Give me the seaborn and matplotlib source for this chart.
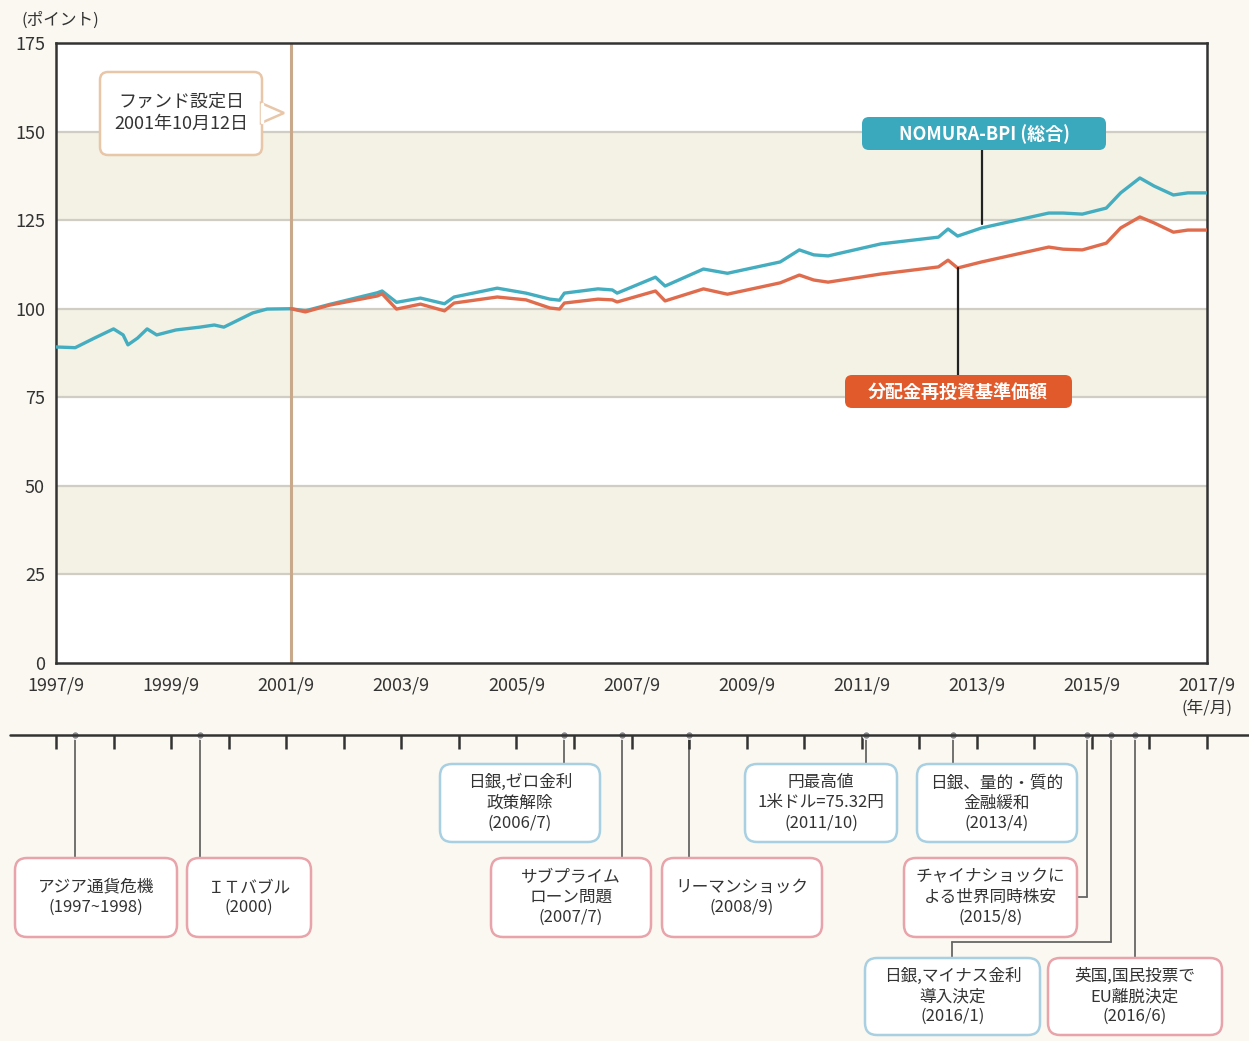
import numpy as np
import pandas as pd
import matplotlib
matplotlib.use("Agg")
import matplotlib.pyplot as plt
from matplotlib.patches import FancyBboxPatch, Polygon
import seaborn as sns

sns.set_theme(style="white")
plt.rcParams['font.family'] = ['Noto Sans CJK JP', 'DejaVu Sans']

# ---- data ----
bpi_dates = ["1997/9", "1998/1", "1998/5", "1998/9", "1998/11", "1998/12", "1999/2", "1999/4",
             "1999/6", "1999/10", "2000/3", "2000/6", "2000/8", "2000/11", "2001/2", "2001/5",
             "2001/10", "2002/1", "2002/6", "2003/4", "2003/5", "2003/8", "2004/1", "2004/6",
             "2004/8", "2005/5", "2005/11", "2006/4", "2006/6", "2006/7", "2007/2", "2007/5",
             "2007/6", "2008/2", "2008/4", "2008/12", "2009/5", "2010/4", "2010/8", "2010/11",
             "2011/2", "2012/1", "2013/1", "2013/3", "2013/5", "2013/10", "2014/12", "2015/3",
             "2015/7", "2015/12", "2016/3", "2016/7", "2016/10", "2017/2", "2017/5", "2017/9"]
bpi_values = [89.2, 89.0, 91.7, 94.3, 92.6, 89.8, 91.7, 94.3, 92.6, 94.0, 94.8, 95.4, 94.8, 96.8,
              98.8, 99.9, 100.0, 99.4, 101.2, 104.5, 105.0, 101.8, 103.0, 101.4, 103.3, 105.8,
              104.4, 102.7, 102.4, 104.4, 105.6, 105.3, 104.4, 108.9, 106.4, 111.2, 110.0, 113.2,
              116.6, 115.2, 114.9, 118.3, 120.2, 122.5, 120.5, 122.8, 127.0, 127.0, 126.7, 128.4,
              132.7, 136.9, 134.6, 132.1, 132.7, 132.7]

fund_dates = bpi_dates[16:]
fund_values = [100.0, 99.1, 101.0, 103.6, 104.2, 99.9, 101.3, 99.4, 101.6, 103.3, 102.5, 100.2,
               99.9, 101.6, 102.7, 102.5, 101.9, 105.0, 102.2, 105.6, 104.1, 107.3, 109.5, 108.1,
               107.5, 109.8, 111.8, 113.7, 111.5, 113.2, 117.4, 116.8, 116.6, 118.5, 122.8, 125.9,
               124.2, 121.6, 122.2, 122.2]

fund_start = "2001/10"
x_labels = ["1997/9", "1999/9", "2001/9", "2003/9", "2005/9", "2007/9", "2009/9",
            "2011/9", "2013/9", "2015/9", "2017/9"]
y_ticks = [0, 25, 50, 75, 100, 125, 150, 175]

event_dates = ["1998/1", "2000/3", "2006/7", "2007/7", "2008/9", "2011/10", "2013/4",
               "2015/8", "2016/1", "2016/6"]
event_texts = ["アジア通貨危機\n(1997~1998)", "ＩＴバブル\n(2000)", "日銀,ゼロ金利\n政策解除\n(2006/7)",
               "サブプライム\nローン問題\n(2007/7)", "リーマンショック\n(2008/9)",
               "円最高値\n1米ドル=75.32円\n(2011/10)", "日銀、量的・質的\n金融緩和\n(2013/4)",
               "チャイナショックに\nよる世界同時株安\n(2015/8)", "日銀,マイナス金利\n導入決定\n(2016/1)",
               "英国,国民投票で\nEU離脱決定\n(2016/6)"]
event_kind = ["crisis", "crisis", "policy", "crisis", "crisis", "policy", "policy",
              "crisis", "policy", "crisis"]


def to_year(s):
    y, m = s.split("/")
    return int(y) + (int(m) - 1) / 12


bpi = pd.DataFrame({"t": [to_year(d) for d in bpi_dates], "v": bpi_values})
fund = pd.DataFrame({"t": [to_year(d) for d in fund_dates], "v": fund_values})

W, H = 1249, 1041
BG = "#faf8f0"
BAND = "#f4f2e5"
TEAL = "#45adc0"
RED = "#e06c4e"
INK = "#333333"
PINK = "#e8a4aa"
BLUE = "#a9d0e2"

fig = plt.figure(figsize=(W / 100, H / 100), dpi=100, facecolor=BG)

# main axes: pixel box x 56..1207, y 43..663
L, R, T, B = 56, 1207, 43, 663
ax = fig.add_axes([L / W, 1 - B / H, (R - L) / W, (B - T) / H])
ax.set_facecolor("white")
x0 = to_year("1997/9")
x1 = to_year("2017/9")
ax.set_xlim(x0, x1)
ax.set_ylim(0, 175)

for lo in (25, 75, 125):
    ax.axhspan(lo, lo + 25, color=BAND, zorder=0, lw=0)
for yv in y_ticks[1:-1]:
    ax.axhline(yv, color="#cfcdc4", lw=1.6, zorder=1)

ax.axvline(to_year(fund_start), color="#c9a98c", lw=2.2, zorder=2)

sns.lineplot(data=bpi, x="t", y="v", ax=ax, color=TEAL, lw=2.4, zorder=3)
sns.lineplot(data=fund, x="t", y="v", ax=ax, color=RED, lw=2.4, zorder=4)

ax.set_xlabel("")
ax.set_ylabel("")
ax.set_yticks(y_ticks)
ax.set_yticklabels([str(v) for v in y_ticks], fontsize=13, color=INK)
ax.tick_params(axis="y", length=0, pad=8)
year_ticks = [x0 + k for k in range(21)]
ax.set_xticks(year_ticks)
ax.set_xticklabels([d if d in x_labels else "" for d in
                    [f"{1997 + k}/9" for k in range(21)]], fontsize=13, color=INK)
ax.tick_params(axis="x", direction="in", length=14, width=1.8, color=INK, pad=10)
for sp in ax.spines.values():
    sp.set_color(INK)
    sp.set_linewidth(1.8)

# timeline axes: full figure, x in years (same scale as main axes), y in pixels
ax_tl = fig.add_axes([0, 0, 1, 1])
ax_tl.axis("off")
px_per_year = (R - L) / (x1 - x0)
a = x0 - L / px_per_year
ax_tl.set_xlim(a, a + W / px_per_year)
ax_tl.set_ylim(H, 0)

# pixel overlay for annotation boxes
ax_px = fig.add_axes([0, 0, 1, 1])
ax_px.axis("off")
ax_px.set_xlim(0, W)
ax_px.set_ylim(H, 0)

line_y = 735
ax_px.plot([10, W], [line_y, line_y], color=INK, lw=1.8, zorder=2)
ax_tl.vlines(year_ticks, line_y, line_y + 14, color=INK, lw=1.8, zorder=2)

ev_t = [to_year(d) for d in event_dates]
box_geo = [(15, 858, 177, 937), (187, 858, 311, 937), (440, 764, 600, 842),
           (491, 858, 651, 937), (662, 858, 822, 937), (745, 764, 897, 842),
           (917, 764, 1077, 842), (904, 858, 1077, 937), (865, 958, 1040, 1035),
           (1048, 958, 1222, 1035)]
lead_col = "#666666"
for i, t in enumerate(ev_t):
    l, tp, r, bt = box_geo[i]
    if i == 7:
        ax_tl.plot([t, t], [line_y, 897], color=lead_col, lw=1.3, zorder=1)
        xa = ax_tl.transData.transform((t, 0))[0]
        ax_px.plot([r, xa * W / fig.bbox.width], [897, 897], color=lead_col, lw=1.3, zorder=1)
    elif i == 8:
        ax_tl.plot([t, t], [line_y, 942], color=lead_col, lw=1.3, zorder=1)
        xa = ax_tl.transData.transform((t, 0))[0]
        ax_px.plot([952, xa * W / fig.bbox.width], [942, 942], color=lead_col, lw=1.3, zorder=1)
        ax_px.plot([952, 952], [942, tp], color=lead_col, lw=1.3, zorder=1)
    else:
        ax_tl.plot([t, t], [line_y, tp], color=lead_col, lw=1.3, zorder=1)
    ec = PINK if event_kind[i] == "crisis" else BLUE
    ax_px.add_patch(FancyBboxPatch((l, tp), r - l, bt - tp,
                                   boxstyle="round,pad=0,rounding_size=12",
                                   fc="white", ec=ec, lw=1.8, zorder=3))
    ax_px.text((l + r) / 2, (tp + bt) / 2, event_texts[i], ha="center", va="center",
               fontsize=12, color=INK, linespacing=1.25, zorder=4)
ax_tl.scatter(ev_t, [line_y] * len(ev_t), s=30, color="#8a8a8a", zorder=5,
              edgecolor="white", lw=0.8)

# fund start callout
ax_px.add_patch(FancyBboxPatch((100, 72), 162, 83, boxstyle="round,pad=0,rounding_size=8",
                               fc="white", ec="#e8c6a8", lw=1.8, zorder=3))
ax_px.add_patch(Polygon([(261, 103), (284, 113), (261, 123)], closed=True,
                        fc="white", ec="#e8c6a8", lw=1.8, zorder=3))
ax_px.plot([262, 262], [104, 122], color="white", lw=2.5, zorder=4)
ax_px.text(181, 113, "ファンド設定日\n2001年10月12日", ha="center", va="center",
           fontsize=13, color=INK, linespacing=1.3, zorder=5)

# series labels
ax_px.plot([982, 982], [150, 224], color="#222222", lw=1.6, zorder=2)
ax_px.add_patch(FancyBboxPatch((862, 117), 244, 33, boxstyle="round,pad=0,rounding_size=7",
                               fc="#3aa8bd", ec="none", zorder=3))
ax_px.text(984, 134, "NOMURA-BPI (総合)", ha="center", va="center", fontsize=13,
           color="white", fontweight="bold", zorder=4)
ax_px.plot([958, 958], [268, 375], color="#222222", lw=1.6, zorder=2)
ax_px.add_patch(FancyBboxPatch((845, 375), 227, 33, boxstyle="round,pad=0,rounding_size=7",
                               fc="#e05a2b", ec="none", zorder=3))
ax_px.text(958, 392, "分配金再投資基準価額", ha="center", va="center", fontsize=13,
           color="white", fontweight="bold", zorder=4)

# axis captions
ax_px.text(22, 20, "(ポイント)", ha="left", va="center", fontsize=12, color=INK)
ax_px.text(1207, 708, "(年/月)", ha="center", va="center", fontsize=12, color=INK)

fig.savefig("out.png", dpi=100, facecolor=BG)
